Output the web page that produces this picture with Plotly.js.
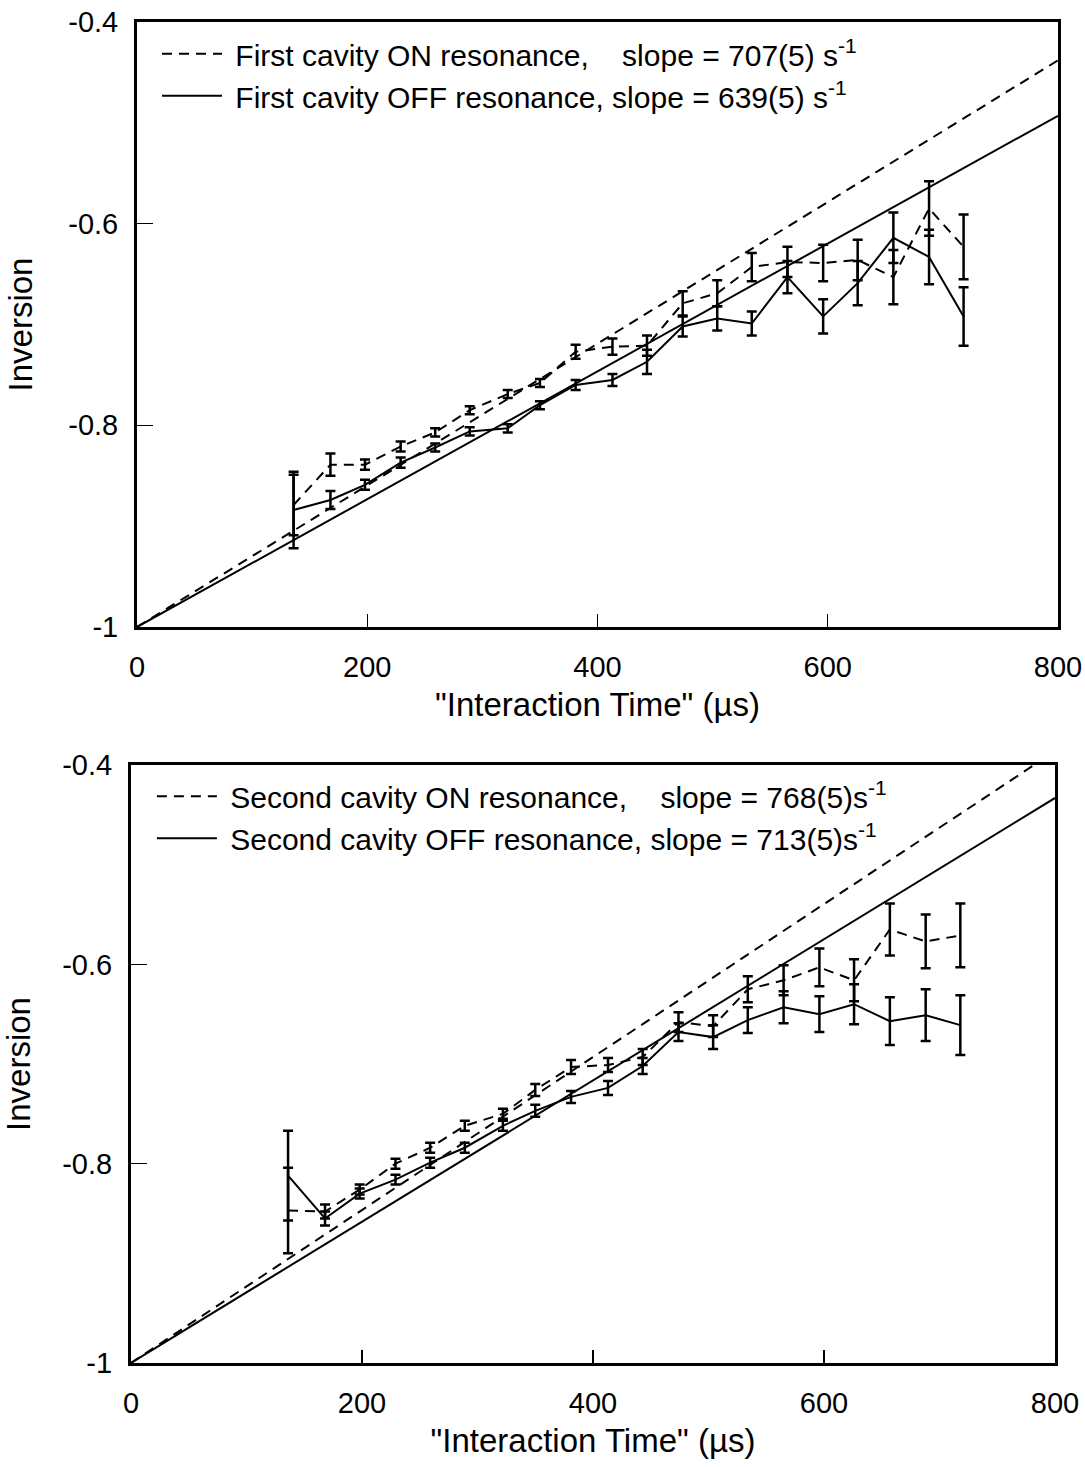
<!DOCTYPE html>
<html>
<head>
<meta charset="utf-8">
<script src="https://cdn.plot.ly/plotly-3.0.1.min.js"></script>
<style>html,body{margin:0;padding:0;background:#fff;}#chart{width:1085px;height:1467px;}</style>
</head>
<body>
<div id="chart"></div>
<script>
// Interaction times (µs), shared by both panels
const times = [136, 168, 198, 229, 259, 289, 322, 350, 381, 413, 443, 474, 504, 534, 565, 596, 626, 657, 688, 718];

// Panel 1: first cavity
const firstOn     = [-0.879, -0.839, -0.839, -0.821, -0.807, -0.785, -0.769, -0.758, -0.727, -0.722, -0.721, -0.679, -0.669, -0.643, -0.638, -0.639, -0.636, -0.653, -0.585, -0.623];
const firstOnErr  = [0.030, 0.011, 0.005, 0.005, 0.004, 0.004, 0.004, 0.004, 0.007, 0.008, 0.010, 0.012, 0.013, 0.014, 0.015, 0.018, 0.020, 0.027, 0.027, 0.032];
const firstOff    = [-0.884, -0.874, -0.859, -0.837, -0.822, -0.806, -0.803, -0.780, -0.760, -0.755, -0.737, -0.702, -0.694, -0.699, -0.653, -0.692, -0.659, -0.614, -0.633, -0.692];
const firstOffErr = [0.038, 0.009, 0.005, 0.005, 0.004, 0.004, 0.004, 0.004, 0.005, 0.006, 0.012, 0.010, 0.012, 0.012, 0.016, 0.017, 0.022, 0.025, 0.027, 0.029];

// Panel 2: second cavity
const secondOn     = [-0.847, -0.848, -0.826, -0.800, -0.784, -0.762, -0.750, -0.726, -0.703, -0.701, -0.693, -0.658, -0.662, -0.625, -0.616, -0.603, -0.616, -0.565, -0.577, -0.571];
const secondOnErr  = [0.043, 0.007, 0.005, 0.005, 0.005, 0.005, 0.005, 0.006, 0.007, 0.007, 0.008, 0.010, 0.011, 0.013, 0.015, 0.019, 0.021, 0.026, 0.027, 0.032];
const secondOff    = [-0.812, -0.855, -0.830, -0.816, -0.799, -0.784, -0.762, -0.747, -0.733, -0.724, -0.702, -0.668, -0.673, -0.656, -0.643, -0.650, -0.640, -0.657, -0.651, -0.661];
const secondOffErr = [0.045, 0.007, 0.005, 0.005, 0.005, 0.005, 0.005, 0.006, 0.006, 0.007, 0.008, 0.009, 0.012, 0.013, 0.016, 0.018, 0.020, 0.024, 0.026, 0.030];

// Linear fits (endpoints)
const fitX = [0, 800];
const firstOnFit   = [-1, -0.438];
const firstOffFit  = [-1, -0.493];
const secondOnFit  = [-1, -0.386];
const secondOffFit = [-1, -0.433];

// Tick labels
const xTicks = [0, 200, 400, 600, 800];
const yTicks = [-1, -0.8, -0.6, -0.4];
const yTickText = ['-1', '-0.8', '-0.6', '-0.4'];

const nb = '\u00a0';
const legendFirstOn   = nb + 'First cavity ON resonance,' + nb + nb + nb + nb + 'slope = 707(5) s<sup>-1</sup>';
const legendFirstOff  = nb + 'First cavity OFF resonance, slope = 639(5) s<sup>-1</sup>';
const legendSecondOn  = nb + 'Second cavity ON resonance,' + nb + nb + nb + nb + 'slope = 768(5)s<sup>-1</sup>';
const legendSecondOff = nb + 'Second cavity OFF resonance, slope = 713(5)s<sup>-1</sup>';

const DASH = '10px,7px';
const FONT = 'Liberation Sans, Arial, Helvetica, sans-serif';

function dataTrace(y, err, dashed, xa, ya) {
  return {
    x: times, y: y, xaxis: xa, yaxis: ya, type: 'scatter', mode: 'lines',
    line: {color: '#000', width: 2, dash: dashed ? DASH : 'solid'},
    error_y: {type: 'data', array: err, visible: true, color: '#000', thickness: 2.5, width: 5},
    showlegend: false, hoverinfo: 'skip'
  };
}
function fitTrace(y, dashed, xa, ya, name, legend) {
  return {
    x: fitX, y: y, xaxis: xa, yaxis: ya, type: 'scatter', mode: 'lines',
    line: {color: '#000', width: 2, dash: dashed ? DASH : 'solid'},
    name: name, legend: legend, showlegend: true, hoverinfo: 'skip'
  };
}

const traces = [
  fitTrace(firstOnFit, true, 'x', 'y', legendFirstOn, 'legend'),
  fitTrace(firstOffFit, false, 'x', 'y', legendFirstOff, 'legend'),
  dataTrace(firstOn, firstOnErr, true, 'x', 'y'),
  dataTrace(firstOff, firstOffErr, false, 'x', 'y'),
  fitTrace(secondOnFit, true, 'x2', 'y2', legendSecondOn, 'legend2'),
  fitTrace(secondOffFit, false, 'x2', 'y2', legendSecondOff, 'legend2'),
  dataTrace(secondOn, secondOnErr, true, 'x2', 'y2'),
  dataTrace(secondOff, secondOffErr, false, 'x2', 'y2')
];

function xAxis(domain, anchor) {
  return {
    domain: domain, anchor: anchor, range: [0, 800], tickvals: xTicks,
    ticks: 'inside', ticklen: 13, tickwidth: 1.5, tickcolor: '#000',
    showline: true, linecolor: '#000', linewidth: 3, mirror: true,
    showgrid: false, zeroline: false, ticklabelstandoff: 12,
    tickfont: {family: FONT, size: 29, color: '#000'},
    title: {text: '"Interaction Time" (\u00b5s)', font: {family: FONT, size: 33, color: '#000'}, standoff: 12}
  };
}
function yAxis(domain, anchor) {
  return {
    domain: domain, anchor: anchor, range: [-1, -0.4], tickvals: yTicks, ticktext: yTickText,
    ticks: 'inside', ticklen: 16, tickwidth: 1.5, tickcolor: '#000',
    showline: true, linecolor: '#000', linewidth: 3, mirror: true,
    showgrid: false, zeroline: false, ticklabelstandoff: 10,
    tickfont: {family: FONT, size: 29, color: '#000'},
    title: {text: 'Inversion', font: {family: FONT, size: 33, color: '#000'}, standoff: 26}
  };
}

const legendCommon = {
  xanchor: 'left', yanchor: 'top', bgcolor: 'rgba(0,0,0,0)', borderwidth: 0,
  font: {family: FONT, size: 30, color: '#000'}, itemwidth: 60, tracegroupgap: 0
};

const layout = {
  width: 1085, height: 1467,
  margin: {l: 0, r: 0, t: 0, b: 0},
  paper_bgcolor: '#fff', plot_bgcolor: '#fff',
  font: {family: FONT, color: '#000'},
  xaxis: xAxis([0.1263, 0.9751], 'y'),
  yaxis: yAxis([0.5726, 0.985], 'x'),
  xaxis2: xAxis([0.1207, 0.9724], 'y2'),
  yaxis2: yAxis([0.0709, 0.4785], 'x2'),
  legend: Object.assign({x: 0.1447, y: 0.981}, legendCommon),
  legend2: Object.assign({x: 0.140, y: 0.475}, legendCommon),
  showlegend: true
};

Plotly.newPlot('chart', traces, layout, {staticPlot: true, displayModeBar: false});
</script>
</body>
</html>
